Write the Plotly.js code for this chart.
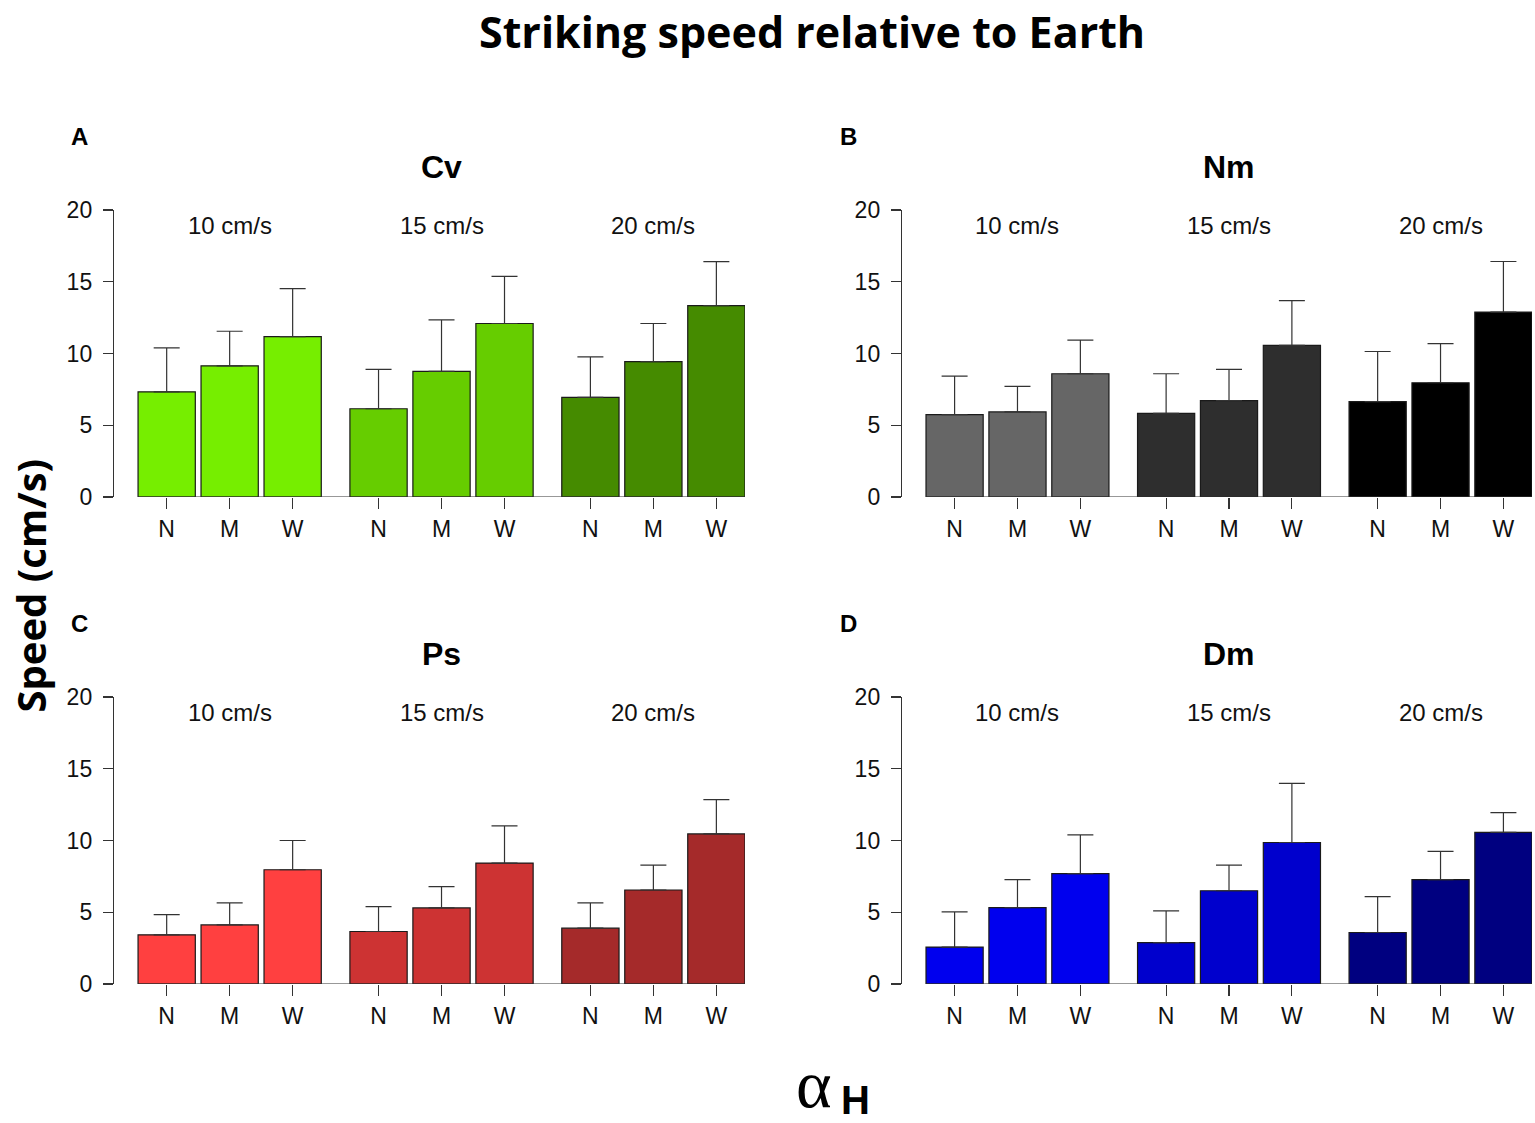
<!DOCTYPE html>
<html>
<head>
<meta charset="utf-8">
<script src="https://cdn.plot.ly/plotly-3.0.1.min.js"></script>
<style>
  body { margin: 0; background: #fff; }
  #chart { width: 1535px; height: 1123px; }
</style>
</head>
<body>
<div id="chart"></div>
<script>
// categories
var speedLabels = ['10 cm/s', '15 cm/s', '20 cm/s'];
var alphaLabels = ['N', 'M', 'W'];
var panelNames = ['Cv', 'Nm', 'Ps', 'Dm'];
var panelLetters = ['A', 'B', 'C', 'D'];

// means (bar heights), order: 10 N,M,W / 15 N,M,W / 20 N,M,W
var cvMean = [7.33, 9.14, 11.18, 6.15, 8.75, 12.09, 6.94, 9.44, 13.34];
var cvTop  = [10.39, 11.55, 14.52, 8.89, 12.34, 15.38, 9.77, 12.09, 16.40];
var nmMean = [5.74, 5.93, 8.59, 5.83, 6.71, 10.56, 6.64, 7.96, 12.89];
var nmTop  = [8.43, 7.71, 10.93, 8.59, 8.89, 13.68, 10.14, 10.69, 16.41];
var psMean = [3.43, 4.12, 7.96, 3.66, 5.30, 8.43, 3.89, 6.55, 10.46];
var psTop  = [4.84, 5.65, 10.00, 5.39, 6.78, 11.02, 5.65, 8.29, 12.85];
var dmMean = [2.57, 5.32, 7.69, 2.89, 6.50, 9.86, 3.59, 7.27, 10.56];
var dmTop  = [5.02, 7.27, 10.39, 5.09, 8.29, 13.98, 6.09, 9.24, 11.94];

var cvColors = ['#76EE00', '#66CD00', '#458B00'];
var nmColors = ['#666666', '#2E2E2E', '#000000'];
var psColors = ['#FF4040', '#CD3333', '#A52A2A'];
var dmColors = ['#0000EE', '#0000CD', '#000080'];

var means = [cvMean, nmMean, psMean, dmMean];
var tops = [cvTop, nmTop, psTop, dmTop];
var palettes = [cvColors, nmColors, psColors, dmColors];

// bar layout: width 1, gap 0.1 inside a group, 0.5 between groups
var xs = [], ticktext = [], groupMid = [];
speedLabels.forEach(function (s, g) {
  alphaLabels.forEach(function (a, i) {
    xs.push(g * 3.7 + i * 1.1);
    ticktext.push(a);
  });
  groupMid.push(g * 3.7 + 1.1);
});
var xLeft = xs[0] - 0.5, xRight = xs[xs.length - 1] + 0.5;

var W = 1535, H = 1123;
var xDomains = [[114 / W, 745 / W], [902 / W, 1532 / W]];
var yDomains = [[1 - 497 / H, 1 - 210 / H], [1 - 984 / H, 1 - 697 / H]];
var titleY = [1 - 167 / H, 1 - 654 / H];
var letterY = [1 - 137 / H, 1 - 623 / H];
var letterX = [79 / W, 848 / W];

var sans = 'Liberation Sans, Arial, sans-serif';
var data = [];
var layout = {
  width: W, height: H,
  margin: {l: 0, r: 0, t: 0, b: 0},
  paper_bgcolor: '#fff', plot_bgcolor: 'rgba(0,0,0,0)',
  showlegend: false,
  font: {family: sans, color: '#000'},
  annotations: [], shapes: []
};

for (var p = 0; p < 4; p++) {
  var col = p % 2, row = Math.floor(p / 2);
  var sfx = p === 0 ? '' : String(p + 1);
  var colors = [];
  var errUp = [], errDown = [];
  for (var k = 0; k < xs.length; k++) {
    colors.push(palettes[p][Math.floor(k / 3)]);
    errUp.push(tops[p][k] - means[p][k]);
    errDown.push(0);
  }
  data.push({
    type: 'bar',
    x: xs, y: means[p], width: 1,
    xaxis: 'x' + sfx, yaxis: 'y' + sfx,
    marker: {color: colors, line: {color: '#1a1a1a', width: 1.2}},
    error_y: {type: 'data', symmetric: false, array: errUp, arrayminus: errDown,
              color: '#333', thickness: 1.2, width: 13},
    hoverinfo: 'y'
  });
  layout['xaxis' + sfx] = {
    domain: xDomains[col], anchor: 'y' + sfx,
    range: [xLeft - 0.42, xRight],
    tickmode: 'array', tickvals: xs, ticktext: ticktext,
    ticks: 'outside', ticklen: 11, tickcolor: '#333', tickwidth: 1.2,
    showline: false, showgrid: false, zeroline: false,
    tickfont: {size: 23, family: sans, color: '#111'}
  };
  layout['yaxis' + sfx] = {
    domain: yDomains[row], anchor: 'x' + sfx,
    range: [0, 20],
    tickmode: 'array', tickvals: [0, 5, 10, 15, 20],
    ticks: 'outside', ticklen: 10, tickcolor: '#333', tickwidth: 1.2,
    ticklabelstandoff: 6,
    showline: true, linecolor: '#333', linewidth: 1.2,
    showgrid: false, zeroline: false,
    tickfont: {size: 23, family: sans, color: '#111'}
  };
  // baseline under the bars
  layout.shapes.push({
    type: 'line', xref: 'x' + sfx, yref: 'y' + sfx,
    x0: xLeft, x1: xRight, y0: 0, y1: 0,
    line: {color: '#333', width: 1.2}
  });
  // panel title
  layout.annotations.push({
    text: '<b>' + panelNames[p] + '</b>', xref: 'x' + sfx, yref: 'paper',
    x: (xLeft + xRight) / 2, y: titleY[row], showarrow: false,
    xanchor: 'center', yanchor: 'middle', font: {size: 32, family: sans}
  });
  // panel letter
  layout.annotations.push({
    text: '<b>' + panelLetters[p] + '</b>', xref: 'paper', yref: 'paper',
    x: letterX[col], y: letterY[row], showarrow: false,
    xanchor: 'center', yanchor: 'middle', font: {size: 24, family: sans}
  });
  // flow speed labels
  speedLabels.forEach(function (s, g) {
    layout.annotations.push({
      text: s, xref: 'x' + sfx, yref: 'y' + sfx,
      x: groupMid[g], y: 18.95, showarrow: false,
      xanchor: 'center', yanchor: 'middle', font: {size: 24, family: sans, color: '#111'}
    });
  });
}

var headFont = 'Open Sans, sans-serif';
layout.annotations.push({
  text: '<b>Striking speed relative to Earth</b>', xref: 'paper', yref: 'paper',
  x: 812 / W, y: 1 - 1 / H, showarrow: false, xanchor: 'center', yanchor: 'top',
  borderpad: 0, font: {size: 43, family: headFont}
});
layout.annotations.push({
  text: '<b>Speed (cm/s)</b>', xref: 'paper', yref: 'paper', textangle: -90,
  x: 1 / W, y: 1 - 586 / H, showarrow: false, xanchor: 'left', yanchor: 'middle',
  borderpad: 0, font: {size: 40, family: headFont}
});
layout.annotations.push({
  text: '\u03B1', xref: 'paper', yref: 'paper',
  x: 814 / W, y: 1 - 1084 / H, showarrow: false, xanchor: 'center', yanchor: 'middle',
  font: {size: 68, family: 'Liberation Serif, Times New Roman, serif'}
});
layout.annotations.push({
  text: '<b>H</b>', xref: 'paper', yref: 'paper',
  x: 856 / W, y: 1 - 1100 / H, showarrow: false, xanchor: 'center', yanchor: 'middle',
  font: {size: 40, family: sans}
});

Plotly.newPlot('chart', data, layout, {displayModeBar: false, staticPlot: true});
</script>
</body>
</html>
